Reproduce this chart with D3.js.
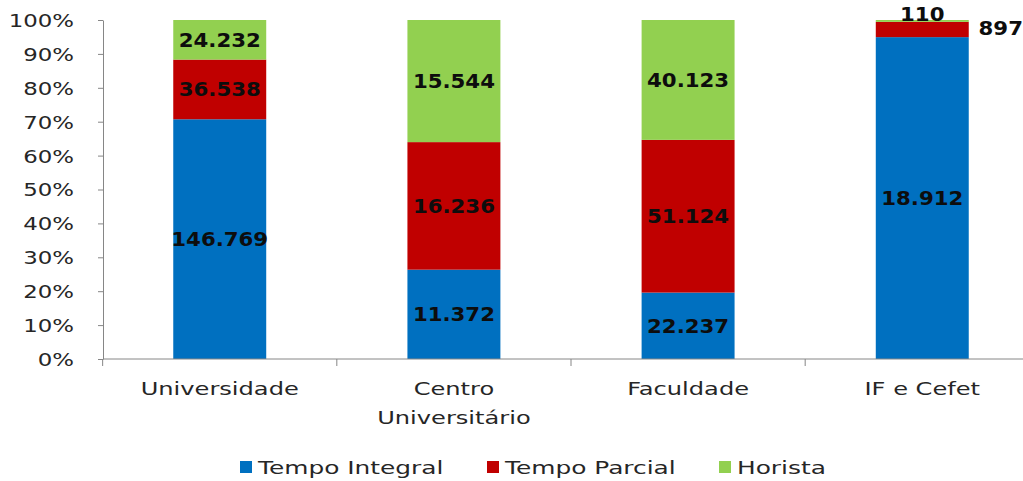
<!DOCTYPE html>
<html>
<head>
    <meta charset="UTF-8">
    <title>Docentes por regime de trabalho</title>
    <style>
        body { margin: 0; background: white; }
        svg { display: block; }
        .axis path, .axis line { stroke: #868686; }
        .axis text { fill: #262626; }
    </style>
</head>
<body>
    <svg></svg>
    <script src="https://d3js.org/d3.v7.min.js"></script>
    <script>
        // data
        let categories = ["Universidade", "Centro Universitário", "Faculdade", "IF e Cefet"]
        let series = ["Tempo Integral", "Tempo Parcial", "Horista"]
        let integral = [146769, 11372, 22237, 18912]
        let parcial = [36538, 16236, 51124, 897]
        let horista = [24232, 15544, 40123, 110]
        let yTicks = [0, 0.1, 0.2, 0.3, 0.4, 0.5, 0.6, 0.7, 0.8, 0.9, 1]
        let colors = ["#0070C0", "#C00000", "#92D050"]

        let width = 1023, height = 481
        let svg = d3.select("svg").attr("width", width).attr("height", height)

        let rows = categories.map((c, i) => {
            let total = integral[i] + parcial[i] + horista[i]
            return { cat: c, "Tempo Integral": integral[i] / total, "Tempo Parcial": parcial[i] / total, "Horista": horista[i] / total,
                raw: [integral[i], parcial[i], horista[i]] }
        })

        let stack = d3.stack().keys(series)(rows)

        let x = d3.scaleBand().domain(categories).range([103, 1039]).paddingInner(0.603).paddingOuter(0.3)
        let y = d3.scaleLinear().domain([0, 1]).range([359, 20])
        let color = d3.scaleOrdinal().domain(series).range(colors)

        let fmt = n => d3.format(",")(n).replace(/,/g, ".")

        // bars
        let layers = svg.append("g").selectAll("g")
            .data(stack)
            .enter().append("g")
            .attr("fill", d => color(d.key))

        layers.selectAll("rect")
            .data(d => d)
            .enter().append("rect")
            .attr("x", d => x(d.data.cat))
            .attr("y", d => y(d[1]))
            .attr("width", x.bandwidth())
            .attr("height", d => y(d[0]) - y(d[1]))

        // y axis
        let yAxis = svg.append("g").attr("class", "axis")
            .attr("transform", "translate(103,0)")
            .call(d3.axisLeft(y).tickValues(yTicks).tickFormat(d3.format(".0%")).tickSize(5).tickSizeOuter(0))
        yAxis.selectAll("text")
            .attr("font-family", "DejaVu Sans").attr("font-size", 18)
            .attr("dy", "0.36em").attr("x", 0)
            .attr("transform", "translate(-29,0) scale(1.27,1)")
            .attr("text-anchor", "end")

        // x axis line and ticks between categories
        let xg = svg.append("g").attr("class", "axis")
        xg.append("line").attr("x1", 103).attr("x2", 1023).attr("y1", 359).attr("y2", 359)
        xg.selectAll(".tk")
            .data(categories)
            .enter().append("line")
            .attr("x1", d => x(d) + x.bandwidth() / 2 - x.step() / 2)
            .attr("x2", d => x(d) + x.bandwidth() / 2 - x.step() / 2)
            .attr("y1", 359).attr("y2", 366)

        // category labels
        let catLabel = svg.append("g").selectAll("text")
            .data(categories)
            .enter().append("text")
            .attr("transform", d => "translate(" + (x(d) + x.bandwidth() / 2) + ",395) scale(1.34,1)")
            .attr("text-anchor", "middle")
            .attr("font-family", "DejaVu Sans").attr("font-size", 18)
            .attr("fill", "#262626")
        catLabel.each(function (d) {
            let words = d === "Centro Universitário" ? ["Centro", "Universitário"] : [d]
            d3.select(this).selectAll("tspan")
                .data(words)
                .enter().append("tspan")
                .attr("x", 0)
                .attr("dy", (w, i) => i == 0 ? 0 : 29)
                .text(w => w)
        })

        // value labels
        layers.each(function (layer, si) {
            d3.select(this.parentNode).append("g").selectAll("text")
                .data(layer)
                .enter().append("text")
                .attr("transform", (d, i) => {
                    let cx = x(d.data.cat) + x.bandwidth() / 2
                    let cy = (y(d[0]) + y(d[1])) / 2
                    let h = y(d[0]) - y(d[1])
                    if (h < 20) {
                        if (si == 2) { cy = y(d[1]) - 6 }
                        else { cx = x(d.data.cat) + x.bandwidth() + 32; cy = y(d[1]) + 6 }
                    }
                    return "translate(" + cx + "," + cy + ") scale(1.12,1)"
                })
                .attr("dy", "0.36em")
                .attr("text-anchor", "middle")
                .attr("font-family", "DejaVu Sans").attr("font-weight", "bold").attr("font-size", 19)
                .attr("fill", "#0d0d0d")
                .text((d, i) => fmt(d.data.raw[si]))
        })

        // legend
        let legendX = [240, 487, 719]
        let legend = svg.append("g").selectAll("g")
            .data(series)
            .enter().append("g")
            .attr("transform", (d, i) => "translate(" + legendX[i] + ",461)")
        legend.append("rect")
            .attr("width", 12).attr("height", 12)
            .attr("fill", d => color(d))
        legend.append("text")
            .attr("transform", "translate(18,13) scale(1.38,1)")
            .attr("font-family", "DejaVu Sans").attr("font-size", 18)
            .attr("fill", "#262626")
            .text(d => d)
    </script>
</body>
</html>
